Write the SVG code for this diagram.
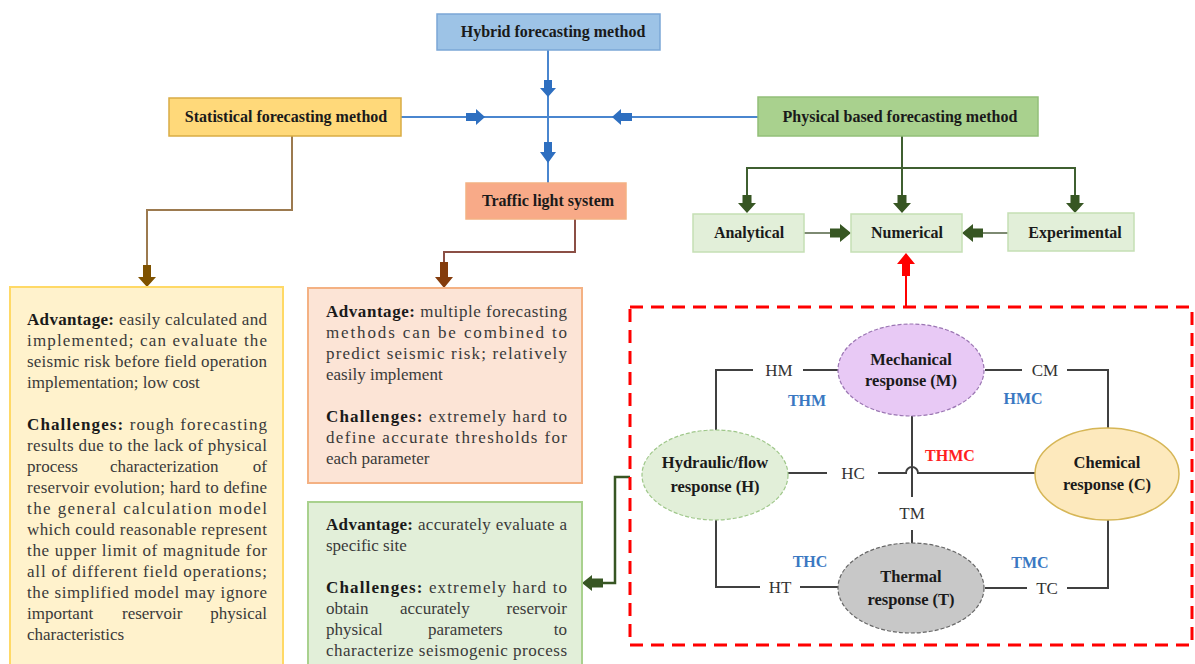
<svg xmlns="http://www.w3.org/2000/svg" width="1195" height="664" viewBox="0 0 1195 664">
<style>
.hdr{font-family:"Liberation Serif","Times New Roman",serif;font-weight:bold;font-size:16px;fill:#1a1a1a;text-anchor:middle}
.tx{font-family:"Liberation Serif","Times New Roman",serif;font-size:17px;fill:#3a3a3a}
.b{font-weight:bold;fill:#1a1a1a}
.ell{font-family:"Liberation Serif","Times New Roman",serif;font-weight:bold;font-size:16.5px;fill:#1a1a1a;text-anchor:middle}
.lbl{font-family:"Liberation Serif","Times New Roman",serif;font-size:17px;fill:#333;text-anchor:middle}
.blu{font-family:"Liberation Serif","Times New Roman",serif;font-weight:bold;font-size:16px;fill:#3a78c2;text-anchor:middle}
.red{font-family:"Liberation Serif","Times New Roman",serif;font-weight:bold;font-size:16px;fill:#ff2020;text-anchor:middle}
.ln{fill:none;stroke:#404040;stroke-width:2}
.blue{fill:none;stroke:#4a86cf;stroke-width:2}
.gl{fill:none;stroke:#3f5f30;stroke-width:2}
.ga{fill:#375623}
.ba{fill:#2e6fc0}
</style>

<g id="connectors">
  <!-- hybrid cross -->
  <path class="blue" d="M401 117 H758"/>
  <path class="blue" d="M548 50 V183"/>
  <path class="ba" d="M544 80 H552 V88 H556 L548 97 L540 88 H544 Z"/>
  <path class="ba" d="M544 142 H552 V152 H556 L548 163 L540 152 H544 Z"/>
  <path class="ba" d="M466 113 H476 V109 L485 117 L476 125 V121 H466 Z"/>
  <path class="ba" d="M632 113 H621 V109 L612 117 L621 125 V121 H632 Z"/>
  <!-- statistical -->
  <path fill="none" stroke="#9c7a4f" stroke-width="2" d="M292 136 V210 H147 V266"/>
  <path fill="#7f5200" d="M143 265 H151 V277 H156 L147 287 L138 277 H143 Z"/>
  <!-- traffic -->
  <path fill="none" stroke="#8b4f45" stroke-width="2" d="M575 219 V252 H444 V263"/>
  <path fill="#843c0c" d="M440 262 H448 V277 H453 L444 288 L435 277 H440 Z"/>
  <!-- physical -->
  <path class="gl" d="M902 136 V196"/>
  <path class="gl" d="M747 196 V168 H1075 V196"/>
  <path class="ga" d="M742.5 195 H751.5 V203 H756 L747 213 L738 203 H742.5 Z"/>
  <path class="ga" d="M897.5 195 H906.5 V203 H911 L902 213 L893 203 H897.5 Z"/>
  <path class="ga" d="M1070.5 195 H1079.5 V203 H1084 L1075 213 L1066 203 H1070.5 Z"/>
  <path fill="none" stroke="#7d8a72" stroke-width="2" d="M804 233 H831"/>
  <path class="ga" d="M830 228.5 H840 V224 L851 233 L840 242 V237.5 H830 Z"/>
  <path fill="none" stroke="#7d8a72" stroke-width="2" d="M1008 233 H982"/>
  <path class="ga" d="M983 228.5 H973 V224 L962 233 L973 242 V237.5 H983 Z"/>
  <!-- red -->
  <path fill="none" stroke="#ff0000" stroke-width="2" d="M906 307 V272"/>
  <path fill="#ff0000" d="M902 276 V264 H897 L906 253 L915 264 H910 V276 Z"/>
  <!-- to green box -->
  <path fill="none" stroke="#375623" stroke-width="2.5" d="M630 477 H615 V583 H601"/>
  <path class="ga" d="M603 578.5 H592 V575 L582 583 L592 591 V587.5 H603 Z"/>
  <!-- THMC couplings -->
  <path class="ln" d="M716 430 V370 H753 M803 370 H838"/>
  <path class="ln" d="M985 370 H1022 M1067 370 H1108 V428"/>
  <path class="ln" d="M716 520 V587 H760 M800 587 H838"/>
  <path class="ln" d="M985 588 H1027 M1067 588 H1108 V520"/>
  <path class="ln" d="M788 473 H827 M878 473 H906 A6 6 0 0 1 918 473 H1035"/>
  <path class="ln" d="M912 416 V497 M912 530 V543"/>
  <rect x="630" y="307" width="562" height="338" fill="none" stroke="#ff0000" stroke-width="3" stroke-dasharray="13 8"/>
</g>

<g id="hybrid">
  <rect x="437" y="14" width="223" height="36" fill="#9dc3e6" stroke="#7ba7d6" stroke-width="1.5"/>
  <text class="hdr" x="553" y="37">Hybrid forecasting method</text>
</g>
<g id="statistical">
  <rect x="169" y="98" width="232" height="38" fill="#ffd97a" stroke="#d9ac45" stroke-width="1.5"/>
  <text class="hdr" x="286" y="122">Statistical forecasting method</text>
</g>
<g id="physical">
  <rect x="758" y="97" width="280" height="39" fill="#a9d18e" stroke="#93bf78" stroke-width="1.5"/>
  <text class="hdr" x="900" y="122">Physical based forecasting method</text>
</g>
<g id="traffic">
  <rect x="466" y="183" width="160" height="36" fill="#f8aa88" stroke="#f4b183" stroke-width="1.5"/>
  <text class="hdr" x="548" y="206">Traffic light system</text>
</g>
<g id="analytical">
  <rect x="693" y="214" width="111" height="38" fill="#e2efd9" stroke="#c5dfb4" stroke-width="1.5"/>
  <text class="hdr" x="749" y="238">Analytical</text>
</g>
<g id="numerical">
  <rect x="851" y="214" width="111" height="38" fill="#e2efd9" stroke="#c5dfb4" stroke-width="1.5"/>
  <text class="hdr" x="907" y="238">Numerical</text>
</g>
<g id="experimental">
  <rect x="1008" y="213" width="126" height="38" fill="#e2efd9" stroke="#c5dfb4" stroke-width="1.5"/>
  <text class="hdr" x="1075" y="238">Experimental</text>
</g>

<g id="statistical-box">
  <rect x="10" y="287" width="273" height="385" fill="#fff2cc" stroke="#ffd966" stroke-width="2"/>
  <text class="tx" x="27" y="325" textLength="240" lengthAdjust="spacing"><tspan class="b">Advantage:</tspan> easily calculated and</text>
  <text class="tx" x="27" y="346" textLength="240" lengthAdjust="spacing">implemented; can evaluate the</text>
  <text class="tx" x="27" y="367" textLength="240" lengthAdjust="spacing">seismic risk before field operation</text>
  <text class="tx" x="27" y="388">implementation; low cost</text>
  <text class="tx" x="27" y="430" textLength="240" lengthAdjust="spacing"><tspan class="b">Challenges:</tspan> rough forecasting</text>
  <text class="tx" x="27" y="451" textLength="240" lengthAdjust="spacing">results due to the lack of physical</text>
  <text class="tx" x="27" y="472">process</text>
  <text class="tx" x="110" y="472">characterization</text>
  <text class="tx" x="267" y="472" text-anchor="end">of</text>
  <text class="tx" x="27" y="493" textLength="240" lengthAdjust="spacing">reservoir evolution; hard to define</text>
  <text class="tx" x="27" y="514" textLength="240" lengthAdjust="spacing">the general calculation model</text>
  <text class="tx" x="27" y="535" textLength="240" lengthAdjust="spacing">which could reasonable represent</text>
  <text class="tx" x="27" y="556" textLength="240" lengthAdjust="spacing">the upper limit of magnitude for</text>
  <text class="tx" x="27" y="577" textLength="240" lengthAdjust="spacing">all of different field operations;</text>
  <text class="tx" x="27" y="598" textLength="240" lengthAdjust="spacing">the simplified model may ignore</text>
  <text class="tx" x="27" y="619">important</text>
  <text class="tx" x="122" y="619">reservoir</text>
  <text class="tx" x="267" y="619" text-anchor="end">physical</text>
  <text class="tx" x="27" y="640">characteristics</text>
</g>

<g id="traffic-box">
  <rect x="308" y="288" width="274" height="195" fill="#fce4d6" stroke="#f4b183" stroke-width="2"/>
  <text class="tx" x="326" y="317" textLength="241" lengthAdjust="spacing"><tspan class="b">Advantage:</tspan> multiple forecasting</text>
  <text class="tx" x="326" y="338" textLength="241" lengthAdjust="spacing">methods can be combined to</text>
  <text class="tx" x="326" y="359" textLength="241" lengthAdjust="spacing">predict seismic risk; relatively</text>
  <text class="tx" x="326" y="380">easily implement</text>
  <text class="tx" x="326" y="422" textLength="241" lengthAdjust="spacing"><tspan class="b">Challenges:</tspan> extremely hard to</text>
  <text class="tx" x="326" y="443" textLength="241" lengthAdjust="spacing">define accurate thresholds for</text>
  <text class="tx" x="326" y="464">each parameter</text>
</g>

<g id="physical-box">
  <rect x="308" y="502" width="274" height="170" fill="#e2efd9" stroke="#a9d18e" stroke-width="2"/>
  <text class="tx" x="326" y="530" textLength="241" lengthAdjust="spacing"><tspan class="b">Advantage:</tspan> accurately evaluate a</text>
  <text class="tx" x="326" y="551">specific site</text>
  <text class="tx" x="326" y="593" textLength="241" lengthAdjust="spacing"><tspan class="b">Challenges:</tspan> extremely hard to</text>
  <text class="tx" x="326" y="614">obtain</text>
  <text class="tx" x="400" y="614">accurately</text>
  <text class="tx" x="567" y="614" text-anchor="end">reservoir</text>
  <text class="tx" x="326" y="635">physical</text>
  <text class="tx" x="428" y="635">parameters</text>
  <text class="tx" x="567" y="635" text-anchor="end">to</text>
  <text class="tx" x="326" y="656" textLength="241" lengthAdjust="spacing">characterize seismogenic process</text>
</g>

<g id="mechanical">
  <ellipse cx="911" cy="370" rx="73" ry="46" fill="#e8c9f5" stroke="#9b76b3" stroke-width="1.2" stroke-dasharray="4 2"/>
  <text class="ell" x="911" y="365">Mechanical</text>
  <text class="ell" x="911" y="386">response (M)</text>
</g>
<g id="hydraulic">
  <ellipse cx="715" cy="475" rx="73" ry="45" fill="#e2efd9" stroke="#9fc78a" stroke-width="1.2" stroke-dasharray="4 2"/>
  <text class="ell" x="715" y="468">Hydraulic/flow</text>
  <text class="ell" x="715" y="492">response (H)</text>
</g>
<g id="chemical">
  <ellipse cx="1107" cy="474" rx="72" ry="46" fill="#fde9bd" stroke="#d6b656" stroke-width="1.5"/>
  <text class="ell" x="1107" y="468">Chemical</text>
  <text class="ell" x="1107" y="490">response (C)</text>
</g>
<g id="thermal">
  <ellipse cx="911" cy="588" rx="73" ry="45" fill="#c8c8c8" stroke="#666" stroke-width="1.2" stroke-dasharray="4 2"/>
  <text class="ell" x="911" y="582">Thermal</text>
  <text class="ell" x="911" y="605">response (T)</text>
</g>

<g id="labels">
  <text class="lbl" x="779" y="376">HM</text>
  <text class="lbl" x="1045" y="376">CM</text>
  <text class="lbl" x="780" y="593">HT</text>
  <text class="lbl" x="1047" y="594">TC</text>
  <text class="lbl" x="853" y="479">HC</text>
  <rect x="893" y="499" width="38" height="29" fill="#fff"/>
  <text class="lbl" x="912" y="519">TM</text>
  <text class="blu" x="807" y="406">THM</text>
  <text class="blu" x="1023" y="404">HMC</text>
  <text class="blu" x="810" y="567">THC</text>
  <text class="blu" x="1030" y="568">TMC</text>
  <text class="red" x="950" y="461">THMC</text>
</g>
</svg>
